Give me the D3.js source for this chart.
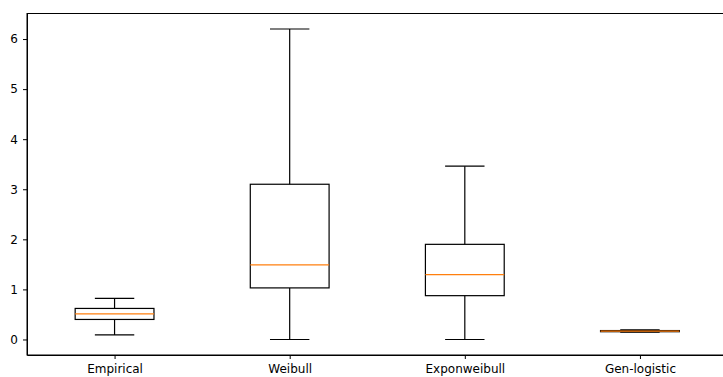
<!DOCTYPE html>
<html lang="en">
<head>
  <meta charset="UTF-8">
  <title>boxplot</title>
  <style>
    body { margin: 0; background: #fff; }
    svg { display: block; }
    .axis text { font-family: "DejaVu Sans", sans-serif; font-size: 12px; fill: #000; }
    .axis path, .axis line { stroke: #000; stroke-width: 1; }
  </style>
</head>
<body>
  <svg width="723" height="377"></svg>
  <script src="https://cdn.jsdelivr.net/npm/d3@7"></script>
  <script>
    // data
    var categories = ["Empirical", "Weibull", "Exponweibull", "Gen-logistic"];
    var whiskerLow = [0.09, 0.0, 0.0, 0.148];
    var q1 = [0.40, 1.03, 0.875, 0.155];
    var median = [0.51, 1.49, 1.295, 0.165];
    var q3 = [0.62, 3.10, 1.90, 0.178];
    var whiskerHigh = [0.82, 6.20, 3.46, 0.19];
    var yTicks = [0, 1, 2, 3, 4, 5, 6];

    var svg = d3.select("svg"),
      margin = {top: 13.5, right: -4.5, bottom: 22, left: 27},
      width = +svg.attr("width") - margin.left - margin.right,
      height = +svg.attr("height") - margin.top - margin.bottom;

    var g = svg.append("g")
      .attr("transform", "translate(" + margin.left + "," + margin.top + ")");

    var x = d3.scaleLinear().domain([0.5, 4.5]).range([0, width]),
      y = d3.scaleLinear().domain([-0.31, 6.51]).range([height, 0]);

    var data = categories.map(function(c, i) {
      return {name: c, pos: i + 1, lo: whiskerLow[i], q1: q1[i], med: median[i], q3: q3[i], hi: whiskerHigh[i]};
    });

    var boxW = 0.45, capW = boxW / 2;

    // whiskers
    var box = g.selectAll(".box").data(data).enter().append("g").attr("class", "box");
    box.append("line")
      .attr("x1", function(d) { return x(d.pos); }).attr("x2", function(d) { return x(d.pos); })
      .attr("y1", function(d) { return y(d.lo); }).attr("y2", function(d) { return y(d.q1); })
      .attr("stroke", "#000").attr("stroke-width", 1.2);
    box.append("line")
      .attr("x1", function(d) { return x(d.pos); }).attr("x2", function(d) { return x(d.pos); })
      .attr("y1", function(d) { return y(d.q3); }).attr("y2", function(d) { return y(d.hi); })
      .attr("stroke", "#000").attr("stroke-width", 1.2);
    // caps
    ["lo", "hi"].forEach(function(k) {
      box.append("line")
        .attr("x1", function(d) { return x(d.pos - capW / 2); }).attr("x2", function(d) { return x(d.pos + capW / 2); })
        .attr("y1", function(d) { return y(d[k]); }).attr("y2", function(d) { return y(d[k]); })
        .attr("stroke", "#000").attr("stroke-width", 1.2);
    });
    // box
    box.append("rect")
      .attr("x", function(d) { return x(d.pos - boxW / 2); })
      .attr("width", x(boxW) - x(0))
      .attr("y", function(d) { return y(d.q3); })
      .attr("height", function(d) { return y(d.q1) - y(d.q3); })
      .attr("fill", "none").attr("stroke", "#000").attr("stroke-width", 1.2);
    // median
    box.append("line")
      .attr("x1", function(d) { return x(d.pos - boxW / 2); }).attr("x2", function(d) { return x(d.pos + boxW / 2); })
      .attr("y1", function(d) { return y(d.med); }).attr("y2", function(d) { return y(d.med); })
      .attr("stroke", "#ff7f0e").attr("stroke-width", 1.2);

    // axes
    g.append("g")
      .attr("class", "axis axis--x")
      .attr("transform", "translate(0," + height + ")")
      .call(d3.axisBottom(x).tickValues([1, 2, 3, 4]).tickFormat(function(d) { return categories[d - 1]; })
        .tickSizeInner(4).tickSizeOuter(0).tickPadding(5));
    g.append("g")
      .attr("class", "axis axis--y")
      .call(d3.axisLeft(y).tickValues(yTicks).tickFormat(d3.format("d"))
        .tickSizeInner(4).tickSizeOuter(0).tickPadding(5));

    // frame
    g.append("rect")
      .attr("width", width).attr("height", height)
      .attr("fill", "none").attr("stroke", "#000").attr("stroke-width", 1);
  </script>
</body>
</html>
